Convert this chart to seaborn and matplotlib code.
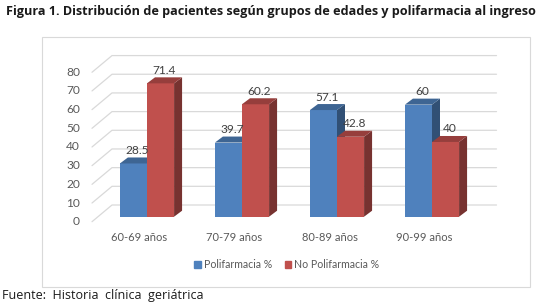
import matplotlib
matplotlib.use("Agg")
from matplotlib import pyplot as plt
from matplotlib.patches import Polygon, Rectangle
import matplotlib.colors as mcolors
import seaborn as sns
import pandas as pd

sns.set_style("white")
plt.rcParams['font.family'] = ['Lato', 'DejaVu Sans']

grupos = ['60-69 años', '70-79 años', '80-89 años', '90-99 años']
polifarmacia = [28.5, 39.7, 57.1, 60]
no_polifarmacia = [71.4, 60.2, 42.8, 40]
series = ['Polifarmacia %', 'No Polifarmacia %']
colores = ['#4F81BD', '#C0504D']
yticks = [0, 10, 20, 30, 40, 50, 60, 70, 80]

df = pd.DataFrame({
    'grupo': grupos * 2,
    'valor': polifarmacia + no_polifarmacia,
    'serie': [series[0]] * 4 + [series[1]] * 4,
})

fig = plt.figure(figsize=(5.4, 3.06), dpi=100)
W, H = 540, 306

# chart frame
fig.patches.append(Rectangle((42 / W, (H - 287) / H), (530 - 42) / W, (287 - 37) / H,
                             transform=fig.transFigure, fill=False,
                             edgecolor='#D9D9D9', linewidth=0.8))

ax = fig.add_axes([99.5 / W, (H - 216.7) / H, 380 / W, 168.1 / H])
sns.barplot(data=df, x='grupo', y='valor', hue='serie', palette=colores,
            width=0.57, saturation=1, ax=ax, legend=False, linewidth=0, zorder=3)
ax.set_xlim(-0.5, 3.5)
ax.set_ylim(0, 90)
ax.axis('off')

px_x = 95.0   # pixels per category
px_y = 168.1 / 90  # pixels per unit

# back wall grid lines (3D look)
bx, by = 12.5 / px_x, 11.7 / px_y
fx, fy = -7.5 / px_x, -5.0 / px_y
xr = 3.5 + 17 / px_x
for v in yticks:
    ax.plot([-0.5 + fx, -0.5 + bx, xr], [v + fy, v + by, v + by],
            color='#D9D9D9', lw=0.9, clip_on=False, zorder=1)
    ax.text(-0.5 + fx - 12 / px_x, v + fy, str(v), ha='right', va='center',
            fontsize=8.6, color='#595959', clip_on=False)

for i, g in enumerate(grupos):
    ax.text(i + fx, fy - 16 / px_y, g, ha='center', va='center',
            fontsize=8, color='#595959', clip_on=False)

# 3D faces of bars
ddx, ddy = 8 / px_x, 6 / px_y
for k, p in enumerate(ax.patches):
    x0 = p.get_x()
    x1 = x0 + p.get_width()
    h = p.get_height()
    base = mcolors.to_rgb(p.get_facecolor())
    side = tuple(c * 0.62 for c in base)
    top = tuple(c * 0.78 for c in base)
    z = 3 + k * 0.01
    ax.add_patch(Polygon([(x1, 0), (x1 + ddx, ddy), (x1 + ddx, h + ddy), (x1, h)],
                         closed=True, facecolor=side, edgecolor='none',
                         zorder=z, clip_on=False))
    ax.add_patch(Polygon([(x0, h), (x0 + ddx, h + ddy), (x1 + ddx, h + ddy), (x1, h)],
                         closed=True, facecolor=top, edgecolor='none',
                         zorder=z, clip_on=False))
    p.set_zorder(z)
    lab = ('%g' % h)
    ax.text((x0 + x1) / 2 + ddx / 2, h + ddy + 1.5 / px_y, lab,
            ha='center', va='bottom', fontsize=8.6, color='#404040',
            zorder=10, clip_on=False)

# legend
handles = [plt.Rectangle((0, 0), 1, 1, color=c) for c in colores]
fig.legend(handles, series, loc='center', bbox_to_anchor=(287 / W, (H - 265) / H),
           ncol=2, frameon=False, fontsize=7.6, handlelength=0.6, handleheight=0.6,
           handletextpad=0.3, columnspacing=1.2, labelcolor='#595959')

fig.text(6 / W, (H - 12) / H, 'Figura 1. Distribución de pacientes según grupos de edades y polifarmacia al ingreso',
         fontsize=9.05, fontweight='bold', family=['Open Sans', 'DejaVu Sans'],
         color='#1a1a1a', va='center', ha='left')
fig.text(2 / W, (H - 295) / H, 'Fuente:  Historia  clínica  geriátrica',
         fontsize=9.0, family=['Open Sans', 'DejaVu Sans'], color='#1a1a1a',
         va='center', ha='left')

fig.savefig('out.png', dpi=100)
